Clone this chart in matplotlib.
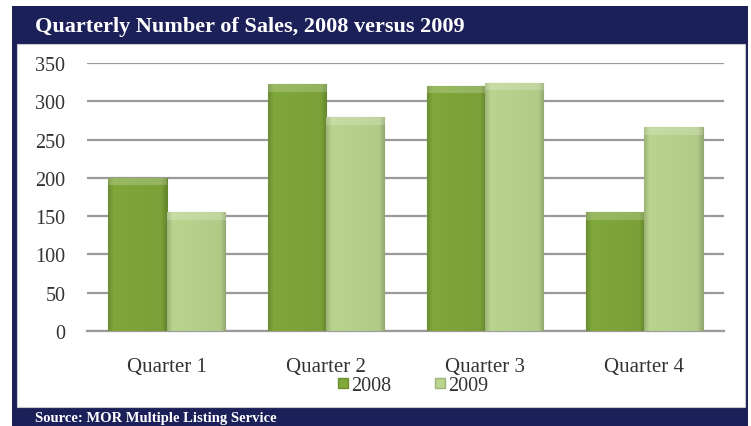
import matplotlib.pyplot as plt
import numpy as np
from matplotlib.patches import Rectangle
from matplotlib.lines import Line2D

quarters = ['Quarter 1', 'Quarter 2', 'Quarter 3', 'Quarter 4']
sales_2008 = [200, 322, 320, 155]
sales_2009 = [155, 279, 324, 266]
years = ['2008', '2009']
yticks = [0, 50, 100, 150, 200, 250, 300, 350]

navy = '#1c2058'
green_dark = np.array([128, 168, 58]) / 255
green_light = np.array([186, 213, 142]) / 255

plt.rcParams['font.family'] = ['Liberation Serif', 'DejaVu Serif']

W, H = 751, 427
fig = plt.figure(figsize=(W / 100, H / 100), dpi=100)

# navy frame with white panel inside
fig.patches.append(Rectangle((12 / W, 0), 736 / W, 1 - 7 / H, transform=fig.transFigure,
                             facecolor=navy, edgecolor='none', zorder=-2))
fig.patches.append(Rectangle((17 / W, 1 - 408 / H), 728 / W, 363 / H, transform=fig.transFigure,
                             facecolor='white', edgecolor='#c8c8d0', lw=0.8, zorder=-1))

fig.text(35 / W, 1 - 27 / H, 'Quarterly Number of Sales, 2008 versus 2009', color='white',
         fontsize=16, fontweight='bold', va='center', ha='left')
fig.text(35 / W, 1 - 419 / H, 'Source: MOR Multiple Listing Service', color='white',
         fontsize=10.5, fontweight='bold', va='center', ha='left')

ax = fig.add_axes([87 / W, 1 - 332 / H, 637 / W, 268 / H])
ax.set_facecolor('none')

x = np.arange(len(quarters))
w = 0.365
px_per_unit_y = 268 / 350


def shaded(base, h):
    # bevelled look: darker sides, lighter top strip
    rows = max(int(h * px_per_unit_y), 2)
    cols = 58
    img = np.ones((rows, cols, 3)) * base
    cx = np.linspace(-1, 1, cols)
    side = 1 - 0.16 * np.clip((np.abs(cx) - 0.82) / 0.18, 0, 1)
    side *= 1 - 0.05 * (cx + 1) / 2
    img *= side[None, :, None]
    bevel = min(8, rows // 2)
    top = np.zeros(rows)
    top[:bevel] = 1
    img = img + (1 - img) * 0.2 * top[:, None, None]
    return np.clip(img, 0, 1)


for vals, off, base in [(sales_2008, -w / 2, green_dark), (sales_2009, w / 2, green_light)]:
    bars = ax.bar(x + off, vals, width=w, color=base, edgecolor=base * 0.8, lw=0.8, zorder=3)
    for b, v in zip(bars, vals):
        im = ax.imshow(shaded(base, v), extent=(b.get_x(), b.get_x() + w, 0, v),
                       aspect='auto', zorder=3.5, interpolation='bilinear')
        im.set_clip_path(b)

ax.set_xlim(-0.5, 3.5)
ax.set_ylim(0, 350)
ax.set_yticks(yticks)
ax.set_xticks(x)
ax.set_xticklabels(quarters)
ax.tick_params(length=0, labelsize=14.5, colors='#333333')
ax.tick_params(axis='y', pad=15.5)
ax.tick_params(axis='x', labelsize=15, pad=19)
ax.yaxis.grid(True, color='#9a9a9a', lw=1.6, zorder=0)
for s in ['top', 'right', 'left']:
    ax.spines[s].set_visible(False)
ax.spines['bottom'].set_color('#9a9a9a')
ax.spines['bottom'].set_linewidth(1.6)

handles = [Line2D([], [], marker='s', ls='none', markersize=6.5, markerfacecolor=c,
                  markeredgecolor=c * 0.85) for c in (green_dark, green_light)]
fig.legend(handles, years, loc='center', bbox_to_anchor=(413 / W, 1 - 386 / H), ncol=2,
           frameon=False, fontsize=14.5, handlelength=0.5, handletextpad=0.15,
           columnspacing=2.2, labelcolor='#333333', borderpad=0, borderaxespad=0)

fig.savefig('out.png', dpi=100)
